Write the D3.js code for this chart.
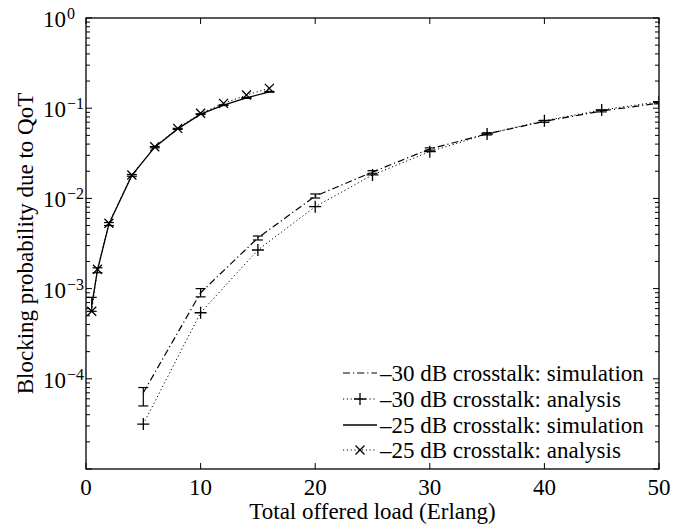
<!DOCTYPE html>
<html>
<head>
<meta charset="utf-8">
<script src="https://cdn.jsdelivr.net/npm/d3@7"></script>
<style>
  body { margin: 0; background: #fff; }
  text { font-family: "Liberation Serif", "Times New Roman", serif; fill: #000; }
</style>
</head>
<body>
<svg id="chart" width="697" height="524"></svg>
<script>
// -30 dB crosstalk
const load30 = [5, 10, 15, 20, 25, 30, 35, 40, 45, 50];
const sim30 = [7.0e-5, 9.0e-4, 3.65e-3, 0.0106, 0.0196, 0.0353, 0.052, 0.0715, 0.093, 0.114];
const sim30Lo = [5.0e-5, 8.1e-4, 3.46e-3, 0.0101, 0.0190, 0.0343, 0.0505, 0.0697, 0.0910, 0.1118];
const sim30Hi = [8.0e-5, 1.0e-3, 3.83e-3, 0.0112, 0.0203, 0.0363, 0.0535, 0.0733, 0.0950, 0.1162];
const ana30 = [3.15e-5, 5.4e-4, 2.68e-3, 8.1e-3, 0.0182, 0.033, 0.0518, 0.0727, 0.0955, 0.118];

// -25 dB crosstalk
const load25 = [0.5, 1, 2, 4, 6, 8, 10, 12, 14, 16];
const sim25 = [6.5e-4, 1.6e-3, 5.2e-3, 0.018, 0.037, 0.059, 0.086, 0.108, 0.13, 0.152];
const sim25Lo = [5.6e-4, 1.5e-3, 5.0e-3, 0.0176, 0.0364, 0.0582, 0.0852, 0.1070, 0.1288, 0.1506];
const sim25Hi = [8.0e-4, 1.7e-3, 5.4e-3, 0.0184, 0.0376, 0.0598, 0.0868, 0.1090, 0.1312, 0.1534];
const ana25 = [5.6e-4, 1.64e-3, 5.3e-3, 0.0182, 0.0374, 0.0598, 0.0878, 0.113, 0.14, 0.166];

const xTicks = [0, 10, 20, 30, 40, 50];
const yDecades = [0, -1, -2, -3, -4];   // labelled exponents
const legendLabels = ["\u201330 dB crosstalk: simulation", "\u201330 dB crosstalk: analysis",
                      "\u201325 dB crosstalk: simulation", "\u201325 dB crosstalk: analysis"];

const m = {left: 86, right: 659, top: 18, bottom: 469};
const FS = 23;
const svg = d3.select("#chart");

const x = d3.scaleLinear().domain([0, 50]).range([m.left, m.right]);
const y = d3.scaleLog().domain([1e-5, 1]).range([m.bottom, m.top]);

const DASHDOT = "7,3,1.2,3";
const DOT = "1.2,2.6";

svg.append("defs").append("clipPath").attr("id", "clip")
  .append("rect").attr("x", m.left).attr("y", m.top)
  .attr("width", m.right - m.left).attr("height", m.bottom - m.top);

// ticks (inward, on all four sides)
const ticks = svg.append("g").attr("stroke", "#000").attr("stroke-width", 1);
xTicks.forEach(t => {
  ticks.append("line").attr("x1", x(t)).attr("x2", x(t)).attr("y1", m.bottom).attr("y2", m.bottom - 6);
  ticks.append("line").attr("x1", x(t)).attr("x2", x(t)).attr("y1", m.top).attr("y2", m.top + 6);
});
for (let e = -5; e <= 0; e++) {
  for (let k = 1; k <= 9; k++) {
    const v = k * Math.pow(10, e);
    if (v > 1) break;
    const len = k === 1 ? 6 : 4;
    ticks.append("line").attr("x1", m.left).attr("x2", m.left + len).attr("y1", y(v)).attr("y2", y(v));
    ticks.append("line").attr("x1", m.right).attr("x2", m.right - len).attr("y1", y(v)).attr("y2", y(v));
  }
}

// axes box
svg.append("rect").attr("x", m.left).attr("y", m.top)
  .attr("width", m.right - m.left).attr("height", m.bottom - m.top)
  .attr("fill", "none").attr("stroke", "#000").attr("stroke-width", 1.3);

// tick labels
svg.append("g").selectAll("text").data(xTicks).enter().append("text")
  .attr("x", d => x(d)).attr("y", 495).attr("text-anchor", "middle")
  .attr("font-size", FS).text(d => d);

const yl = svg.append("g");
yDecades.forEach(e => {
  const yy = y(Math.pow(10, e));
  yl.append("text").attr("x", 43).attr("y", yy + 9).attr("font-size", FS).text("10");
  yl.append("text").attr("x", 67).attr("y", yy + 1).attr("font-size", 16)
    .text(e === 0 ? "0" : "\u2212" + (-e));
});

// axis titles
svg.append("text").attr("x", (m.left + m.right) / 2).attr("y", 519)
  .attr("text-anchor", "middle").attr("font-size", FS).text("Total offered load (Erlang)");
svg.append("text").attr("transform", `translate(33,${(m.top + m.bottom) / 2}) rotate(-90)`)
  .attr("text-anchor", "middle").attr("font-size", FS).text("Blocking probability due to QoT");

// data
const g = svg.append("g").attr("clip-path", "url(#clip)");
const line = d3.line().x(d => x(d[0])).y(d => y(d[1]));

function errorBars(xs, lo, hi) {
  const eg = g.append("g").attr("stroke", "#000").attr("stroke-width", 1.2);
  xs.forEach((xv, i) => {
    const cx = x(xv);
    eg.append("line").attr("x1", cx).attr("x2", cx).attr("y1", y(lo[i])).attr("y2", y(hi[i]));
    eg.append("line").attr("x1", cx - 5).attr("x2", cx + 5).attr("y1", y(lo[i])).attr("y2", y(lo[i]));
    eg.append("line").attr("x1", cx - 5).attr("x2", cx + 5).attr("y1", y(hi[i])).attr("y2", y(hi[i]));
  });
}

function plusMark(sel, cx, cy) {
  sel.append("path").attr("d", `M${cx - 6},${cy}H${cx + 6}M${cx},${cy - 6}V${cy + 6}`)
    .attr("stroke", "#000").attr("stroke-width", 1.3).attr("fill", "none");
}
function crossMark(sel, cx, cy) {
  const r = 4.5;
  sel.append("path").attr("d", `M${cx - r},${cy - r}L${cx + r},${cy + r}M${cx - r},${cy + r}L${cx + r},${cy - r}`)
    .attr("stroke", "#000").attr("stroke-width", 1.3).attr("fill", "none");
}

// -30 analysis (dotted +)
g.append("path").datum(d3.zip(load30, ana30)).attr("d", line)
  .attr("fill", "none").attr("stroke", "#000").attr("stroke-width", 1).attr("stroke-dasharray", DOT);
load30.forEach((xv, i) => plusMark(g, x(xv), y(ana30[i])));

// -30 simulation (dash-dot with error bars)
g.append("path").datum(d3.zip(load30, sim30)).attr("d", line)
  .attr("fill", "none").attr("stroke", "#000").attr("stroke-width", 1.2).attr("stroke-dasharray", DASHDOT);
errorBars(load30, sim30Lo, sim30Hi);

// -25 analysis (dotted x)
g.append("path").datum(d3.zip(load25, ana25)).attr("d", line)
  .attr("fill", "none").attr("stroke", "#000").attr("stroke-width", 1).attr("stroke-dasharray", DOT);
load25.forEach((xv, i) => crossMark(g, x(xv), y(ana25[i])));

// -25 simulation (solid with error bars)
g.append("path").datum(d3.zip(load25, sim25)).attr("d", line)
  .attr("fill", "none").attr("stroke", "#000").attr("stroke-width", 1.3);
errorBars(load25, sim25Lo, sim25Hi);

// legend
const leg = svg.append("g");
const rowY = [373, 399, 425, 450];
const styles = [
  {dash: DASHDOT, w: 1.2, mark: null},
  {dash: DOT, w: 1, mark: "plus"},
  {dash: null, w: 1.3, mark: null},
  {dash: DOT, w: 1, mark: "cross"}
];
legendLabels.forEach((lab, i) => {
  const yy = rowY[i];
  const s = styles[i];
  const ln = leg.append("line").attr("x1", 343).attr("x2", 377).attr("y1", yy).attr("y2", yy)
    .attr("stroke", "#000").attr("stroke-width", s.w);
  if (s.dash) ln.attr("stroke-dasharray", s.dash);
  if (s.mark === "plus") plusMark(leg, 360, yy);
  if (s.mark === "cross") crossMark(leg, 360, yy);
  leg.append("text").attr("x", 380).attr("y", yy + 8).attr("font-size", FS).text(lab);
});
</script>
</body>
</html>
